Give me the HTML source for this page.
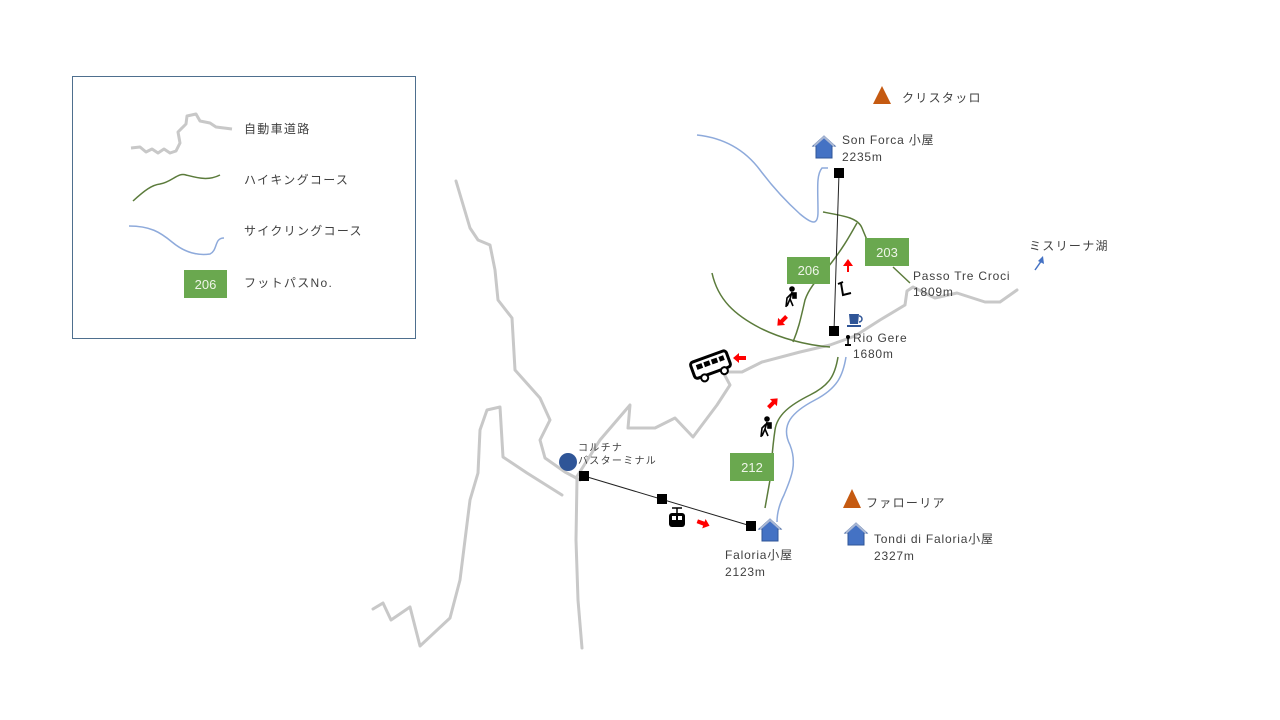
<!DOCTYPE html>
<html><head><meta charset="utf-8"><style>
body{margin:0;background:#fff}
svg{display:block}
text{font-family:"Liberation Sans","Noto Sans CJK JP",sans-serif;fill:#404040;font-size:12px;letter-spacing:0.8px}
.jp{letter-spacing:1.3px}
</style></head><body>
<svg width="1280" height="720" viewBox="0 0 1280 720" xmlns="http://www.w3.org/2000/svg">
<rect x="72.5" y="76.5" width="343" height="262" fill="#fff" stroke="#4e6f8e" stroke-width="1"/>
<path d="M131,148 L140,147 L146,152 L152,149 L158,153 L164,149 L170,153 L176,151 L180,143 L178,132 L186,124 L187,116 L196,114 L200,121 L210,123 L216,127 L232,129" fill="none" stroke="#c8c8c8" stroke-width="3" stroke-linejoin="round"/>
<path d="M133,201 C145,190 152,185 160,184 C172,182 178,172 186,175 C198,178 208,181 220,175" fill="none" stroke="#5b7b3b" stroke-width="1.5"/>
<path d="M129,226 C150,226 160,232 172,242 C184,252 196,256 210,254 C218,250 214,238 224,238" fill="none" stroke="#8eaadb" stroke-width="1.5"/>
<rect x="184" y="270" width="43" height="28" fill="#6aa84f"/>
<text x="205.5" y="289" text-anchor="middle" style="fill:#eef5e8;font-size:13px;letter-spacing:0">206</text>
<text class="jp" x="244" y="133">自動車道路</text>
<text class="jp" x="244" y="184">ハイキングコース</text>
<text class="jp" x="244" y="235">サイクリングコース</text>
<text class="jp" x="244" y="287">フットパスNo.</text>

<g fill="none" stroke="#c8c8c8" stroke-width="3" stroke-linejoin="round" stroke-linecap="round">
<path d="M456,181 L470,228 L478,240 L490,245 L495,270 L498,300 L512,318 L515,370 L540,398 L550,420 L540,440 L545,458 L565,472 L580,480"/>
<path d="M577,478 L576,540 L578,600 L582,648"/>
<path d="M373,609 L383,603 L391,620 L410,607 L420,646 L450,618 L460,580 L470,500 L478,473 L480,430 L487,410 L500,407 L503,457 L527,473 L562,495"/>
<path d="M576,478 L600,440 L630,405 L628,428 L655,428 L675,418 L693,437 L717,405 L730,385 L723,372 L742,372 L762,362 L800,352 L830,345 L855,336 L880,320 L905,305 L907,291 L913,287 L935,298 L957,293 L985,302 L1000,302 L1017,290"/>
</g>
<g fill="none" stroke="#8eaadb" stroke-width="1.5">
<path d="M697,135 C725,138 745,150 760,170 C775,190 790,205 800,214 C812,224 818,226 818,212 C818,190 816,175 822,168 L828,168"/>
<path d="M846,357 C843,375 838,388 815,400 C792,412 780,425 790,445 C798,465 790,480 784,495 C779,505 777,515 777,522"/>
<path d="M1035,270 L1042,260" stroke="#4472c4"/>
</g>
<path d="M1043,256 L1044,264 L1038,261 Z" fill="#4472c4"/>
<g fill="none" stroke="#5b7b3b" stroke-width="1.5">
<path d="M712,273 C718,300 735,315 760,328 C780,338 805,345 830,347"/>
<path d="M793,342 C798,330 800,322 805,300 C810,285 822,275 832,262 C845,245 850,235 857,223"/>
<path d="M823,212 C845,216 858,218 862,228 L867,240"/>
<path d="M893,267 L910,283"/>
<path d="M838,357 C835,375 830,385 810,395 C790,405 777,415 775,430 C772,450 772,460 770,480 L765,508"/>
</g>
<rect x="865" y="238" width="44" height="28" fill="#6aa84f"/>
<text x="887" y="257" text-anchor="middle" style="fill:#eef5e8;font-size:13px;letter-spacing:0">203</text>
<rect x="787" y="257" width="43" height="27" fill="#6aa84f"/>
<text x="808.5" y="275" text-anchor="middle" style="fill:#eef5e8;font-size:13px;letter-spacing:0">206</text>
<rect x="730" y="453" width="44" height="28" fill="#6aa84f"/>
<text x="752" y="472" text-anchor="middle" style="fill:#eef5e8;font-size:13px;letter-spacing:0">212</text>

<line x1="839" y1="173" x2="834" y2="331" stroke="#222" stroke-width="1"/>
<rect x="834" y="168" width="10" height="10" fill="#000"/>
<rect x="829" y="326" width="10" height="10" fill="#000"/>
<line x1="584" y1="476" x2="751" y2="526" stroke="#222" stroke-width="1"/>
<rect x="579" y="471" width="10" height="10" fill="#000"/>
<rect x="657" y="494" width="10" height="10" fill="#000"/>
<rect x="746" y="521" width="10" height="10" fill="#000"/>

<path d="M813,146 L824,136 L835,146 L832,146 L832,158 L816,158 L816,146 Z" fill="#4472c4" stroke="#2f5597"/>
<path d="M814,146 L824,137 L834,146" fill="none" stroke="#aab8d4" stroke-width="2"/>
<path d="M759,529 L770,519 L781,529 L778,529 L778,541 L762,541 L762,529 Z" fill="#4472c4" stroke="#2f5597"/>
<path d="M760,529 L770,520 L780,529" fill="none" stroke="#aab8d4" stroke-width="2"/>
<path d="M845,533 L856,523 L867,533 L864,533 L864,545 L848,545 L848,533 Z" fill="#4472c4" stroke="#2f5597"/>
<path d="M846,533 L856,524 L866,533" fill="none" stroke="#aab8d4" stroke-width="2"/>
<path d="M873,104 L882,86 L891,104 Z" fill="#c55a11"/>
<path d="M843,508 L852,489 L861,508 Z" fill="#c55a11"/>
<circle cx="568" cy="462" r="9" fill="#2f5597"/>

<g transform="translate(711,366) rotate(-20)">
<rect x="-19" y="-10" width="38" height="17" rx="3" fill="#fff" stroke="#000" stroke-width="3"/>
<rect x="-14" y="-6" width="6" height="5" fill="#000"/><rect x="-6" y="-6" width="6" height="5" fill="#000"/><rect x="2" y="-6" width="6" height="5" fill="#000"/><rect x="10" y="-6" width="5" height="5" fill="#000"/>
<circle cx="-10" cy="9" r="3.5" fill="#fff" stroke="#000" stroke-width="2"/><circle cx="11" cy="9" r="3.5" fill="#fff" stroke="#000" stroke-width="2"/>
</g>
<line x1="677" y1="508" x2="677" y2="513" stroke="#000" stroke-width="1.5"/><line x1="672" y1="508" x2="682" y2="508" stroke="#000" stroke-width="1.5"/>
<rect x="669" y="513" width="16" height="14" rx="3" fill="#000"/>
<rect x="672" y="516" width="4" height="4" fill="#fff"/><rect x="678" y="516" width="4" height="4" fill="#fff"/>
<path d="M838,284 L843,282 M841,283 L843,295 L851,293" fill="none" stroke="#000" stroke-width="2"/>
<path d="M849,314 L859,314 L858,324 L850,324 Z" fill="#2f5597"/>
<path d="M859,316 a3,3 0 0 1 0,6" fill="none" stroke="#2f5597" stroke-width="1.5"/>
<rect x="847" y="325" width="14" height="2" fill="#2f5597"/>
<circle cx="848" cy="337" r="2" fill="#000"/><rect x="847.3" y="337" width="1.5" height="8" fill="#000"/><rect x="845" y="344" width="6" height="2" fill="#000"/>
<g fill="none" stroke="#000" stroke-width="1.6">
<circle cx="792" cy="289" r="2" fill="#000"/><path d="M792,292 L790,299 L787,306 M790,299 L793,306 M791,294 L787,298 L786,307 M792,294 L796,298"/>
<rect x="793" y="293" width="3" height="5" fill="#000"/>
<circle cx="767" cy="419" r="2" fill="#000"/><path d="M767,422 L765,429 L762,436 M765,429 L768,436 M766,424 L762,428 L761,437 M767,424 L771,428"/>
<rect x="768" y="423" width="3" height="5" fill="#000"/>
</g>
<g fill="#ff0000">
<path d="M847,272 L847,266 L843,266 L848,259 L853,266 L849,266 L849,272 Z"/>
<path d="M-5,-2 L2,-2 L2,-5 L8,0 L2,5 L2,2 L-5,2 Z" transform="translate(783,320) rotate(135)"/>
<path d="M-5,-2 L2,-2 L2,-5 L8,0 L2,5 L2,2 L-5,2 Z" transform="translate(741,358) rotate(180)"/>
<path d="M-5,-2 L2,-2 L2,-5 L8,0 L2,5 L2,2 L-5,2 Z" transform="translate(772,404) rotate(-45)"/>
<path d="M-5,-2 L2,-2 L2,-5 L8,0 L2,5 L2,2 L-5,2 Z" transform="translate(702,523) rotate(20)"/>
</g>

<text class="jp" x="902" y="102">クリスタッロ</text>
<text x="842" y="144">Son Forca 小屋</text>
<text x="842" y="161">2235m</text>
<text x="913" y="280">Passo Tre Croci</text>
<text x="913" y="296">1809m</text>
<text class="jp" x="1029" y="250">ミスリーナ湖</text>
<text x="853" y="342">Rio Gere</text>
<text x="853" y="358">1680m</text>
<text class="jp" x="578" y="451" style="font-size:10px">コルチナ</text>
<text class="jp" x="578" y="464" style="font-size:10px">バスターミナル</text>
<text x="725" y="559">Faloria小屋</text>
<text x="725" y="576">2123m</text>
<text class="jp" x="866" y="507">ファローリア</text>
<text x="874" y="543">Tondi di Faloria小屋</text>
<text x="874" y="560">2327m</text>
</svg>
</body></html>
